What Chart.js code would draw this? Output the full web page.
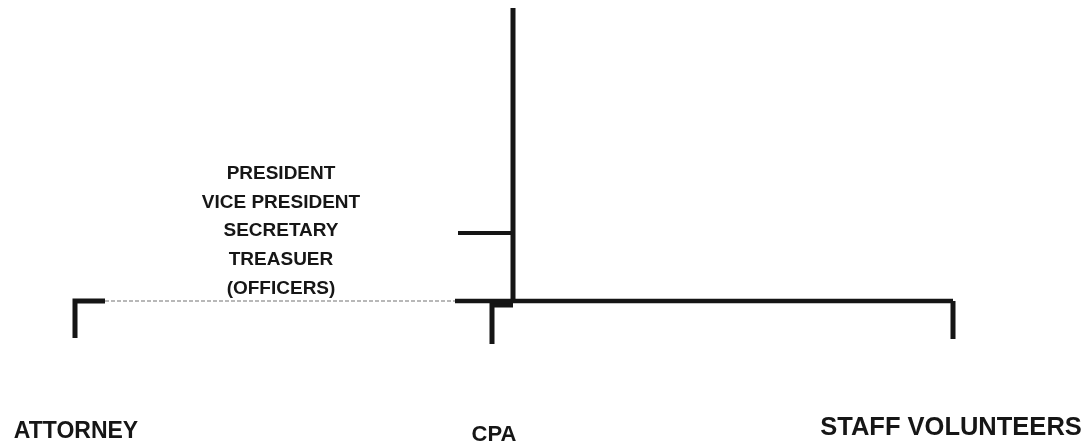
<!DOCTYPE html>
<html>
<head>
<meta charset="utf-8">
<script src="https://cdn.jsdelivr.net/npm/chart.js@4"></script>
<style>
  html, body { margin: 0; padding: 0; background: #ffffff; }
  #wrap { width: 1090px; height: 448px; position: relative; }
</style>
</head>
<body>
<div id="wrap"><canvas id="c"></canvas></div>
<script>
// ---- chart content ----
const officerTitles = ['PRESIDENT', 'VICE PRESIDENT', 'SECRETARY', 'TREASUER', '(OFFICERS)'];
const unitNames = ['ATTORNEY', 'CPA', 'STAFF VOLUNTEERS'];

// connector paths (drawing coordinates in chart units: x 0..1090, y 0..448 top-down)
const trunkPath = [{x: 513, y: 8}, {x: 513, y: 303}];
const officerBranch = [{x: 458, y: 233}, {x: 513, y: 233}];
const busSolid = [{x: 455, y: 301}, {x: 953, y: 301}];
const busFaded = [{x: 105, y: 301}, {x: 455, y: 301}];
const attorneyDrop = [{x: 105, y: 301}, {x: 75, y: 301}, {x: 75, y: 338}];
const cpaDrop = [{x: 513, y: 305}, {x: 492, y: 305}, {x: 492, y: 344}];
const staffDrop = [{x: 953, y: 301}, {x: 953, y: 339}];

// ---- layout / style (not data) ----
const layout = {
  officerX: 281,
  officerY: [174, 202.5, 231, 260, 289],
  officerFont: 'bold 19px "Liberation Sans", Arial, sans-serif',
  unitX: [76, 494, 951],
  unitY: [431.5, 435, 427.5],
  unitFont: ['bold 23px "Liberation Sans", Arial, sans-serif',
             'bold 22px "Liberation Sans", Arial, sans-serif',
             'bold 25.5px "Liberation Sans", Arial, sans-serif']
};

function seg(data, color, width, dash) {
  return {
    data: data, showLine: true, borderColor: color, backgroundColor: color,
    borderWidth: width, pointRadius: 0, pointHoverRadius: 0, fill: false,
    borderDash: dash || [], borderCapStyle: 'butt', borderJoinStyle: 'miter', tension: 0
  };
}

const textPlugin = {
  id: 'orgText',
  afterDatasetsDraw(chart) {
    const ctx = chart.ctx, xs = chart.scales.x, ys = chart.scales.y;
    ctx.save();
    ctx.fillStyle = '#161616';
    ctx.textAlign = 'center';
    ctx.textBaseline = 'middle';
    ctx.font = layout.officerFont;
    officerTitles.forEach((t, i) => {
      ctx.fillText(t, xs.getPixelForValue(layout.officerX), ys.getPixelForValue(layout.officerY[i]));
    });
    unitNames.forEach((t, i) => {
      ctx.font = layout.unitFont[i];
      ctx.fillText(t, xs.getPixelForValue(layout.unitX[i]), ys.getPixelForValue(layout.unitY[i]));
    });
    ctx.restore();
  }
};

new Chart(document.getElementById('c'), {
  type: 'scatter',
  data: {
    datasets: [
      seg(busFaded, '#b8b8b8', 2, [4, 2]),
      seg(busSolid, '#151515', 4.5),
      seg(trunkPath, '#151515', 5),
      seg(officerBranch, '#151515', 4),
      seg(attorneyDrop, '#151515', 5),
      seg(cpaDrop, '#151515', 5),
      seg(staffDrop, '#151515', 5)
    ]
  },
  options: {
    responsive: true,
    maintainAspectRatio: false,
    animation: false,
    events: [],
    layout: { padding: 0 },
    plugins: { legend: { display: false }, tooltip: { enabled: false } },
    scales: {
      x: { type: 'linear', min: 0, max: 1090, display: false },
      y: { type: 'linear', min: 0, max: 448, reverse: true, display: false }
    }
  },
  plugins: [textPlugin]
});
</script>
</body>
</html>
